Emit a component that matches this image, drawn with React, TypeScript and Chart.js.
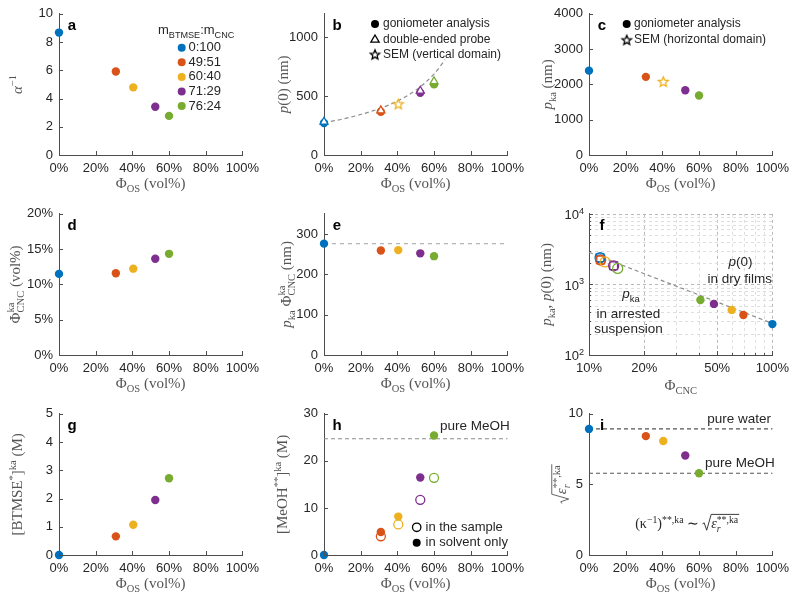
import { useEffect, useRef } from "react";
import { Chart, registerables } from "chart.js";

Chart.register(...registerables);

// ---------------- data ----------------
const COLORS = ["#0072BD", "#D95319", "#EDB120", "#7E2F8E", "#77AC30"];
const MASS_RATIOS = ["0:100", "49:51", "60:40", "71:29", "76:24"];
const PHI_OS = [0, 31, 40.5, 52.5, 60];
const X_TICKS = [0, 20, 40, 60, 80, 100];

// a
const ALPHA_INV = [8.67, 5.91, 4.79, 3.42, 2.77];
const A_Y_TICKS = [0, 2, 4, 6, 8, 10];
// b
const P0_GONIO = [272, 368, null, 528, 600];
const P0_PROBE = [282, 378, null, 545, 625];
const P0_SEM = [null, null, 435, null, null];
const P0_FIT_X = [0, 10, 20, 30, 40, 50, 60, 66];
const P0_FIT_Y = [275, 305, 344, 393, 458, 550, 688, 810];
const B_Y_TICKS = [0, 500, 1000];
// c
const PKA = [2390, 2214, 2084, 1833, 1684];
const PKA_IS_SEM = [false, false, true, false, false];
const C_Y_TICKS = [0, 1000, 2000, 3000, 4000];
// d
const PHI_CNC_KA = [11.49, 11.58, 12.23, 13.63, 14.33];
const D_Y_TICKS = [0, 5, 10, 15, 20];
// e
const PKA_PHI = [276, 259, 260, 252, 245];
const PKA_PHI_REF = 276;
const E_Y_TICKS = [0, 100, 200, 300];
// f
const PHI_CNC_FILM = [100, 69.5, 60, 48, 40.5];
const P0_FILM = [274, 369, 435, 529, 601];
const F_SQUARE = [true, true, false, true, false];
const F_FIT_X = [10, 100];
const F_FIT_Y = [2850, 280];
const F_X_TICKS = [10, 20, 50, 100];
const F_Y_TICKS = [100, 1000, 10000];
// g
const BTMSE_KA = [0, 0.66, 1.07, 1.95, 2.72];
const G_Y_TICKS = [0, 1, 2, 3, 4, 5];
// h
const MEOH_SOLVENT = [0, 4.88, 8.16, 16.47, 25.4];
const MEOH_SAMPLE = [null, 3.98, 6.49, 11.72, 16.4];
const PURE_MEOH_M = 24.7;
const H_Y_TICKS = [0, 10, 20, 30];
// i
const SQRT_EPS = [8.93, 8.42, 8.07, 7.05, 5.79];
const SQRT_EPS_WATER = 8.93;
const SQRT_EPS_MEOH = 5.79;
const I_Y_TICKS = [0, 5, 10];

// ---------------- style ----------------
const SERIF = '"Liberation Serif", "Times New Roman", serif';
const SANS = '"Liberation Sans", Arial, Helvetica, sans-serif';
const AXIS = "#4d4d4d";
const TICK = "#262626";
const TITLE = "#555555";
const TXT = "#262626";
const TITLE_SIZE = 15;

type Seg = { t?: string; v?: "sup" | "sub"; it?: boolean; stack?: boolean; rad?: boolean; ov?: boolean };

function drawRich(
  ctx: CanvasRenderingContext2D,
  segs: Seg[],
  x: number,
  y: number,
  size: number,
  color: string,
  family = SERIF,
  align: "left" | "center" | "right" = "center",
  rotate = false
) {
  const items: any[] = [];
  let cx = 0;
  let pending: { start: number; w: number } | null = null;
  let ovEnd: number | null = null;
  for (const s of segs) {
    if (s.rad) {
      items.push({ kind: "rad", x: cx, w: size * 0.62 });
      cx += size * 0.62;
      continue;
    }
    const fs = s.v ? size * 0.7 : size;
    const font = `${s.it ? "italic " : ""}${fs}px ${family}`;
    ctx.font = font;
    const w = ctx.measureText(s.t || "").width;
    const dy = s.v === "sup" ? -size * 0.4 : s.v === "sub" ? size * 0.25 : 0;
    const sx = pending ? pending.start : cx;
    items.push({ kind: "t", t: s.t || "", font, x: sx, dy });
    if (pending) {
      cx = pending.start + Math.max(pending.w, w);
      pending = null;
    } else if (s.stack) {
      pending = { start: sx, w };
      cx = sx + w;
    } else cx = sx + w;
    if (s.ov) ovEnd = cx;
  }
  const total = cx;
  ctx.save();
  ctx.fillStyle = color;
  ctx.strokeStyle = color;
  ctx.translate(x, y);
  if (rotate) ctx.rotate(-Math.PI / 2);
  const x0 = align === "left" ? 0 : align === "right" ? -total : -total / 2;
  const base = size * 0.33;
  ctx.textBaseline = "alphabetic";
  ctx.textAlign = "left";
  for (const it of items) {
    if (it.kind === "t") {
      ctx.font = it.font;
      ctx.fillText(it.t, x0 + it.x, base + it.dy);
    } else {
      const top = base - size * 0.98;
      const rx = x0 + it.x;
      ctx.lineWidth = 0.9;
      ctx.beginPath();
      ctx.moveTo(rx, base - size * 0.3);
      ctx.lineTo(rx + size * 0.12, base - size * 0.38);
      ctx.lineTo(rx + size * 0.3, base + size * 0.15);
      ctx.lineTo(rx + it.w, top);
      if (ovEnd !== null) ctx.lineTo(x0 + ovEnd + 1, top);
      ctx.stroke();
    }
  }
  ctx.restore();
}

function starImage(color: string, r = 5.2): HTMLCanvasElement {
  const size = Math.ceil(r * 2 + 4);
  const c = document.createElement("canvas");
  c.width = size;
  c.height = size;
  const g = c.getContext("2d")!;
  g.beginPath();
  for (let k = 0; k < 10; k++) {
    const rr = k % 2 === 0 ? r : r * 0.45;
    const a = -Math.PI / 2 + (k * Math.PI) / 5;
    const px = size / 2 + rr * Math.cos(a);
    const py = size / 2 + 0.6 + rr * Math.sin(a);
    if (k === 0) g.moveTo(px, py);
    else g.lineTo(px, py);
  }
  g.closePath();
  g.fillStyle = "#fff";
  g.fill();
  g.lineWidth = 1.3;
  g.strokeStyle = color;
  g.stroke();
  return c;
}

function mark(ctx: CanvasRenderingContext2D, kind: string, x: number, y: number, color: string) {
  ctx.save();
  ctx.setLineDash([]);
  ctx.fillStyle = color;
  ctx.strokeStyle = color;
  ctx.lineWidth = 1.3;
  if (kind === "dot") {
    ctx.beginPath();
    ctx.arc(x, y, 4, 0, Math.PI * 2);
    ctx.fill();
  } else if (kind === "ring") {
    ctx.beginPath();
    ctx.arc(x, y, 4.2, 0, Math.PI * 2);
    ctx.stroke();
  } else if (kind === "tri") {
    const r = 4.8;
    ctx.beginPath();
    ctx.moveTo(x, y - r);
    ctx.lineTo(x + r * 0.866, y + r * 0.5);
    ctx.lineTo(x - r * 0.866, y + r * 0.5);
    ctx.closePath();
    ctx.stroke();
  } else if (kind === "star") {
    const img = starImage(color, 5);
    ctx.drawImage(img, x - img.width / 2, y - img.height / 2);
  }
  ctx.restore();
}

function label(ctx: CanvasRenderingContext2D, t: string, x: number, y: number, size = 13, align: CanvasTextAlign = "left") {
  ctx.save();
  ctx.fillStyle = TXT;
  ctx.font = `${size}px ${SANS}`;
  ctx.textAlign = align;
  ctx.textBaseline = "middle";
  ctx.fillText(t, x, y);
  ctx.restore();
}

type Spec = {
  id: string;
  letter: string;
  xTitle: Seg[];
  yTitle: Seg[];
  yTitleX: number;
  xTitleDy?: number;
  xTicks: number[];
  yTicks: number[];
  xMinor?: number[];
  yMinor?: number[];
  grid?: { xs: number[]; ys: number[]; xMajor: number[]; yMajor: number[] };
  extra?: (ctx: CanvasRenderingContext2D, chart: any) => void;
};

function overlay(spec: Spec) {
  return {
    id: "overlay_" + spec.id,
    beforeDraw(chart: any) {
      if (!spec.grid) return;
      const ctx: CanvasRenderingContext2D = chart.ctx;
      const { left, right, top, bottom } = chart.chartArea;
      const xs = chart.scales.x;
      const ys = chart.scales.y;
      const g = spec.grid;
      ctx.save();
      ctx.lineWidth = 1;
      ctx.setLineDash([3, 3]);
      g.xs.forEach((v) => {
        const px = Math.round(xs.getPixelForValue(v)) + 0.5;
        if (px < left + 2) return;
        ctx.strokeStyle = g.xMajor.includes(v) ? "#b8b8b8" : "#dedede";
        ctx.beginPath();
        ctx.moveTo(px, top);
        ctx.lineTo(px, bottom);
        ctx.stroke();
      });
      g.ys.forEach((v) => {
        const py = Math.round(ys.getPixelForValue(v)) + 0.5;
        if (py > bottom - 2) return;
        ctx.strokeStyle = g.yMajor.includes(v) ? "#b8b8b8" : "#dedede";
        ctx.beginPath();
        ctx.moveTo(left, py);
        ctx.lineTo(right, py);
        ctx.stroke();
      });
      ctx.restore();
    },
    afterDraw(chart: any) {
      const ctx: CanvasRenderingContext2D = chart.ctx;
      const { left, right, top, bottom } = chart.chartArea;
      const xs = chart.scales.x;
      const ys = chart.scales.y;
      ctx.save();
      ctx.strokeStyle = AXIS;
      ctx.lineWidth = 1;
      ctx.setLineDash([]);
      ctx.beginPath();
      const xt = (v: number, len: number) => {
        const px = Math.round(xs.getPixelForValue(v)) + 0.5;
        ctx.moveTo(px, bottom);
        ctx.lineTo(px, bottom - len);
      };
      const yt = (v: number, len: number) => {
        const py = Math.round(ys.getPixelForValue(v)) + 0.5;
        ctx.moveTo(left, py);
        ctx.lineTo(left + len, py);
      };
      spec.xTicks.forEach((v) => xt(v, 4));
      (spec.xMinor || []).forEach((v) => xt(v, 2));
      spec.yTicks.forEach((v) => yt(v, 4));
      (spec.yMinor || []).forEach((v) => yt(v, 2));
      ctx.stroke();

      ctx.fillStyle = "#000";
      ctx.font = `bold 15px ${SANS}`;
      ctx.textAlign = "center";
      ctx.textBaseline = "alphabetic";
      ctx.fillText(spec.letter, left + 13, top + 16);

      drawRich(ctx, spec.xTitle, (left + right) / 2, bottom + 28 + (spec.xTitleDy || 0), TITLE_SIZE, TITLE);
      drawRich(ctx, spec.yTitle, spec.yTitleX, (top + bottom) / 2, TITLE_SIZE, TITLE, SERIF, "center", true);
      if (spec.extra) spec.extra(ctx, chart);
      ctx.restore();
    },
  };
}

function axis(kind: "x" | "y", min: number, max: number, ticks: number[], fmt: (v: number) => string, type = "linear") {
  return {
    type,
    min,
    max,
    position: kind === "x" ? "bottom" : "left",
    grid: { display: false, drawTicks: false },
    border: { display: true, color: AXIS, width: 1 },
    ticks: {
      font: { family: SANS, size: 13 },
      color: TICK,
      padding: 6,
      maxRotation: 0,
      minRotation: 0,
      autoSkip: false,
      callback: (v: any) => fmt(Number(v)),
    },
    afterBuildTicks: (s: any) => {
      s.ticks = ticks.map((v) => ({ value: v }));
    },
    afterFit: (s: any) => {
      if (kind === "x") s.height = 45;
      else s.width = 59;
    },
  };
}

const pct = (v: number) => `${v}%`;
const num = (v: number) => `${v}`;

function pts(xs: number[], ys: (number | null)[]) {
  const data: { x: number; y: number }[] = [];
  const colors: string[] = [];
  const idx: number[] = [];
  ys.forEach((y, i) => {
    if (y !== null && y !== undefined) {
      data.push({ x: xs[i], y });
      colors.push(COLORS[i]);
      idx.push(i);
    }
  });
  return { data, colors, idx };
}

function filled(xs: number[], ys: (number | null)[]) {
  const p = pts(xs, ys);
  return { data: p.data, pointBackgroundColor: p.colors, pointBorderColor: p.colors, pointRadius: 4.2, pointBorderWidth: 0, clip: false };
}

function hollow(xs: number[], ys: (number | null)[], style: string, radius = 5, bg = "rgba(0,0,0,0)") {
  const p = pts(xs, ys);
  return { data: p.data, pointStyle: style, pointBackgroundColor: bg, pointBorderColor: p.colors, pointRadius: radius, pointBorderWidth: 1.3, clip: false };
}

function lineDS(xs: number[], ys: number[], color: string, dash: number[], width = 1.2) {
  return {
    data: xs.map((x, i) => ({ x, y: ys[i] })),
    showLine: true,
    borderColor: color,
    borderDash: dash,
    borderWidth: width,
    pointRadius: 0,
    clip: false,
    cubicInterpolationMode: "monotone",
  };
}

const X_TITLE: Seg[] = [{ t: "Φ" }, { t: "OS", v: "sub" }, { t: " (vol%)" }];

function config(datasets: any[], spec: Spec, x: any, y: any) {
  return {
    type: "scatter",
    data: { datasets },
    options: {
      animation: false,
      responsive: false,
      events: [],
      layout: { padding: { top: 12, right: 20, left: 0, bottom: 0 } },
      plugins: { legend: { display: false }, tooltip: { enabled: false } },
      scales: { x, y },
    },
    plugins: [overlay(spec)],
  };
}

function buildPanels(): any[] {
  const xLin = () => axis("x", 0, 100, X_TICKS, pct);

  // a
  const a = config(
    [filled(PHI_OS, ALPHA_INV)],
    {
      id: "a",
      letter: "a",
      xTitle: X_TITLE,
      yTitle: [{ t: "α", it: true }, { t: "−1", v: "sup" }],
      yTitleX: 17,
      xTicks: X_TICKS,
      yTicks: A_Y_TICKS,
      extra: (ctx) => {
        drawRich(ctx, [{ t: "m" }, { t: "BTMSE", v: "sub" }, { t: ":m" }, { t: "CNC", v: "sub" }], 158, 30, 13, TXT, SANS, "left");
        MASS_RATIOS.forEach((r, i) => {
          const yy = 47.7 + 14.6 * i;
          mark(ctx, "dot", 181.7, yy, COLORS[i]);
          label(ctx, r, 188.5, yy, 13);
        });
      },
    },
    xLin(),
    axis("y", 0, 10, A_Y_TICKS, num)
  );

  // b
  const semP = pts(PHI_OS, P0_SEM);
  const b = config(
    [
      hollow(PHI_OS, P0_PROBE, "triangle", 4.6, "#fff"),
      { data: semP.data, pointStyle: semP.idx.map((i) => starImage(COLORS[i])), pointRadius: 5, clip: false },
      filled(PHI_OS, P0_GONIO),
      lineDS(P0_FIT_X, P0_FIT_Y, "#8c8c8c", [4, 3]),
    ],
    {
      id: "b",
      letter: "b",
      xTitle: X_TITLE,
      yTitle: [{ t: "p", it: true }, { t: "(0) (nm)" }],
      yTitleX: 18,
      xTicks: X_TICKS,
      yTicks: B_Y_TICKS,
      extra: (ctx) => {
        mark(ctx, "dot", 110, 24, "#000");
        label(ctx, "goniometer analysis", 118, 24, 12);
        mark(ctx, "tri", 110, 39.8, "#000");
        label(ctx, "double-ended probe", 118, 39.3, 12);
        mark(ctx, "star", 110, 54.3, "#000");
        label(ctx, "SEM (vertical domain)", 118, 54.3, 12);
      },
    },
    xLin(),
    axis("y", 0, 1200, B_Y_TICKS, num)
  );

  // c
  const c = config(
    [
      {
        data: PHI_OS.map((x, i) => ({ x, y: PKA[i] })),
        pointStyle: PKA_IS_SEM.map((s, i) => (s ? starImage(COLORS[i]) : "circle")),
        pointBackgroundColor: COLORS,
        pointBorderColor: COLORS,
        pointBorderWidth: 0,
        pointRadius: 4.2,
        clip: false,
      },
    ],
    {
      id: "c",
      letter: "c",
      xTitle: X_TITLE,
      yTitle: [{ t: "p", it: true }, { t: "ka", v: "sub" }, { t: " (nm)" }],
      yTitleX: 17.5,
      xTicks: X_TICKS,
      yTicks: C_Y_TICKS,
      extra: (ctx) => {
        mark(ctx, "dot", 96.7, 24, "#000");
        label(ctx, "goniometer analysis", 104, 24, 12);
        mark(ctx, "star", 96.7, 39.7, "#000");
        label(ctx, "SEM (horizontal domain)", 104, 39.7, 12);
      },
    },
    xLin(),
    axis("y", 0, 4000, C_Y_TICKS, num)
  );

  // d
  const d = config(
    [filled(PHI_OS, PHI_CNC_KA)],
    {
      id: "d",
      letter: "d",
      xTitle: X_TITLE,
      yTitle: [{ t: "Φ" }, { t: "CNC", v: "sub", stack: true }, { t: "ka", v: "sup" }, { t: " (vol%)" }],
      yTitleX: 15,
      xTicks: X_TICKS,
      yTicks: D_Y_TICKS,
    },
    xLin(),
    axis("y", 0, 20, D_Y_TICKS, pct)
  );

  // e
  const e = config(
    [filled(PHI_OS, PKA_PHI), lineDS([0, 100], [PKA_PHI_REF, PKA_PHI_REF], "#b5b5b5", [4, 4])],
    {
      id: "e",
      letter: "e",
      xTitle: X_TITLE,
      yTitle: [
        { t: "p", it: true },
        { t: "ka", v: "sub" },
        { t: " Φ" },
        { t: "CNC", v: "sub", stack: true },
        { t: "ka", v: "sup" },
        { t: " (nm)" },
      ],
      yTitleX: 21,
      xTicks: X_TICKS,
      yTicks: E_Y_TICKS,
    },
    xLin(),
    axis("y", 0, 350, E_Y_TICKS, num)
  );

  // f
  const fxGrid: number[] = [];
  for (let v = 10; v <= 100; v += 10) fxGrid.push(v);
  const fyGrid: number[] = [];
  for (let p = 100; p < 10000; p *= 10) for (let m = 1; m <= 9; m++) fyGrid.push(m * p);
  fyGrid.push(10000);
  const f = config(
    [
      filled(PHI_CNC_FILM, P0_FILM),
      hollow(PHI_CNC_KA, PKA, "circle", 5),
      hollow(PHI_CNC_KA, PKA.map((v, i) => (F_SQUARE[i] ? v : null)), "rect", 5.5),
      lineDS(F_FIT_X, F_FIT_Y, "#8c8c8c", [4, 3]),
    ],
    {
      id: "f",
      letter: "f",
      xTitle: [{ t: "Φ" }, { t: "CNC", v: "sub" }],
      xTitleDy: 2,
      yTitle: [{ t: "p", it: true }, { t: "ka", v: "sub" }, { t: ", " }, { t: "p", it: true }, { t: "(0) (nm)" }],
      yTitleX: 16.5,
      xTicks: F_X_TICKS,
      yTicks: F_Y_TICKS,
      xMinor: fxGrid,
      yMinor: fyGrid,
      grid: { xs: fxGrid, ys: fyGrid, xMajor: F_X_TICKS, yMajor: F_Y_TICKS },
      extra: (ctx, chart) => {
        const ys = chart.scales.y;
        const left = chart.chartArea.left;
        F_Y_TICKS.forEach((v) => {
          drawRich(ctx, [{ t: "10" }, { t: String(Math.round(Math.log10(v))), v: "sup" }], left - 5, ys.getPixelForValue(v) + 1, 13, TICK, SANS, "right");
        });
        drawRich(ctx, [{ t: "p", it: true }, { t: "(0)" }], 210.5, 61.7, 13.5, TXT, SANS, "center");
        label(ctx, "in dry films", 209.7, 79, 13.5, "center");
        drawRich(ctx, [{ t: "p", it: true }, { t: "ka", v: "sub" }], 101, 94, 13.5, TXT, SANS, "center");
        label(ctx, "in arrested", 98.3, 114.3, 13.5, "center");
        label(ctx, "suspension", 98.5, 128.8, 13.5, "center");
      },
    },
    axis("x", 10, 100, F_X_TICKS, pct, "logarithmic"),
    axis("y", 100, 10000, F_Y_TICKS, () => "", "logarithmic")
  );

  // g
  const g = config(
    [filled(PHI_OS, BTMSE_KA)],
    {
      id: "g",
      letter: "g",
      xTitle: X_TITLE,
      yTitle: [{ t: "[BTMSE" }, { t: "*", v: "sup" }, { t: "]" }, { t: "ka", v: "sup" }, { t: " (M)" }],
      yTitleX: 17.5,
      xTicks: X_TICKS,
      yTicks: G_Y_TICKS,
    },
    xLin(),
    axis("y", 0, 5, G_Y_TICKS, num)
  );

  // h
  const h = config(
    [
      filled(PHI_OS, MEOH_SOLVENT),
      hollow(PHI_OS, MEOH_SAMPLE, "circle", 4.5, "#fff"),
      lineDS([0, 100], [PURE_MEOH_M, PURE_MEOH_M], "#8c8c8c", [4, 3]),
    ],
    {
      id: "h",
      letter: "h",
      xTitle: X_TITLE,
      yTitle: [{ t: "[MeOH" }, { t: "**", v: "sup" }, { t: "]" }, { t: "ka", v: "sup" }, { t: " (M)" }],
      yTitleX: 17,
      xTicks: X_TICKS,
      yTicks: H_Y_TICKS,
      extra: (ctx) => {
        label(ctx, "pure MeOH", 175, 26.7, 13.5);
        mark(ctx, "ring", 151.7, 127.3, "#000");
        label(ctx, "in the sample", 160.5, 127.3, 13);
        mark(ctx, "dot", 151.7, 142.7, "#000");
        label(ctx, "in solvent only", 160.5, 142.7, 13);
      },
    },
    xLin(),
    axis("y", 0, 30, H_Y_TICKS, num)
  );

  // i
  const i = config(
    [
      filled(PHI_OS, SQRT_EPS),
      lineDS([0, 100], [SQRT_EPS_WATER, SQRT_EPS_WATER], "#555", [4, 3]),
      lineDS([0, 100], [SQRT_EPS_MEOH, SQRT_EPS_MEOH], "#555", [4, 3]),
    ],
    {
      id: "i",
      letter: "i",
      xTitle: X_TITLE,
      yTitle: [
        { rad: true },
        { t: "ε", it: true, ov: true },
        { t: "r", v: "sub", it: true, stack: true, ov: true },
        { t: "**,ka", v: "sup", ov: true },
      ],
      yTitleX: 31.5,
      xTicks: X_TICKS,
      yTicks: I_Y_TICKS,
      extra: (ctx) => {
        label(ctx, "pure water", 177.3, 19.3, 13.5);
        label(ctx, "pure MeOH", 175, 63.3, 13.5);
        drawRich(
          ctx,
          [
            { t: "(κ", it: false },
            { t: "−1", v: "sup" },
            { t: ")" },
            { t: "**,ka", v: "sup" },
            { t: " ∼ " },
            { rad: true },
            { t: "ε", it: true, ov: true },
            { t: "r", v: "sub", it: true, stack: true, ov: true },
            { t: "**,ka", v: "sup", ov: true },
          ],
          156.7,
          123.5,
          14,
          TXT
        );
      },
    },
    xLin(),
    axis("y", 0, 10, I_Y_TICKS, num)
  );

  return [a, b, c, d, e, f, g, h, i];
}

export default function App() {
  const refs = useRef<(HTMLCanvasElement | null)[]>([]);
  useEffect(() => {
    const cfgs = buildPanels();
    const charts = cfgs.map((cfg, k) => new Chart(refs.current[k] as HTMLCanvasElement, cfg));
    return () => charts.forEach((ch) => ch.destroy());
  }, []);
  const cells = [0, 1, 2, 3, 4, 5, 6, 7, 8];
  return (
    <div style={{ position: "absolute", left: 0, top: 0, width: 800, height: 600, background: "#fff" }}>
      {cells.map((k) => (
        <canvas
          key={k}
          ref={(el) => {
            refs.current[k] = el;
          }}
          width={265}
          height={200}
          style={{ position: "absolute", left: (k % 3) * 265, top: Math.floor(k / 3) * 200, width: 265, height: 200 }}
        />
      ))}
    </div>
  );
}
